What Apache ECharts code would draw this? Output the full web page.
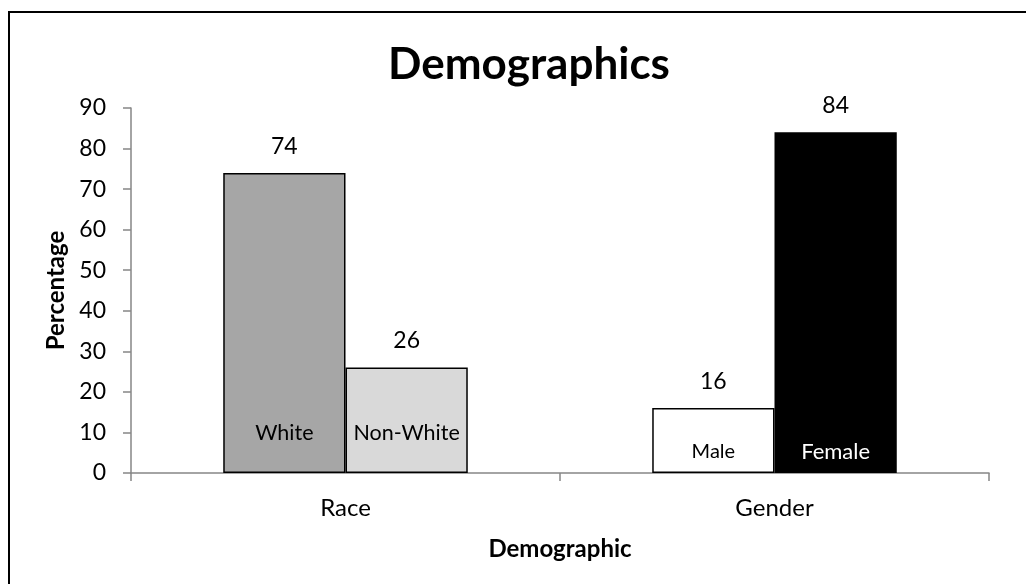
<!DOCTYPE html>
<html>
<head>
<meta charset="utf-8">
<script src="https://cdn.jsdelivr.net/npm/echarts@6/dist/echarts.min.js"></script>
<style>
html,body{margin:0;padding:0;background:#fff;}
#chart{width:1026px;height:584px;}
</style>
</head>
<body>
<div id="chart"></div>
<script>
const categories = ['Race', 'Gender'];
const firstValues = [74, 16];
const secondValues = [26, 84];
const firstNames = ['White', 'Male'];
const secondNames = ['Non-White', 'Female'];
const firstColors = ['#a6a6a6', '#ffffff'];
const secondColors = ['#d9d9d9', '#000000'];
const yTicks = [0, 10, 20, 30, 40, 50, 60, 70, 80, 90];

const FONT = 'Lato';
const chart = echarts.init(document.getElementById('chart'));

function visibleData(values, colors) {
  return values.map((v, i) => ({
    value: v,
    itemStyle: { color: colors[i], borderColor: '#000', borderWidth: 1.5 }
  }));
}
function nameData(values, names, textColors, sizes, dists) {
  return values.map((v, i) => ({
    value: v,
    label: { formatter: names[i], color: textColors[i], fontSize: sizes[i], distance: dists[i] }
  }));
}

const option = {
  animation: false,
  backgroundColor: '#fff',
  title: {
    text: 'Demographics',
    left: 524,
    textAlign: 'center',
    top: 38,
    textStyle: { fontFamily: FONT, fontWeight: 'bold', fontSize: 44, color: '#000' }
  },
  graphic: [{
    type: 'rect',
    shape: { x: 9, y: 12, width: 1100, height: 700 },
    style: { fill: 'none', stroke: '#000', lineWidth: 2 },
    silent: true
  }],
  grid: { left: 131, right: 37, top: 108, bottom: 111 },
  xAxis: [{
    type: 'category',
    data: categories,
    name: 'Demographic',
    nameLocation: 'middle',
    nameGap: 64,
    nameTextStyle: { fontFamily: FONT, fontWeight: 'bold', fontSize: 24, color: '#000' },
    axisLine: { lineStyle: { color: '#868686', width: 1.5 } },
    axisTick: { show: true, length: 8, lineStyle: { color: '#868686', width: 1.5 } },
    axisLabel: { fontFamily: FONT, fontSize: 24, color: '#000', margin: 23 }
  }, {
    type: 'category',
    data: categories,
    show: false
  }],
  yAxis: {
    type: 'value',
    min: 0, max: 90, interval: 10,
    name: 'Percentage',
    nameLocation: 'middle',
    nameGap: 61,
    nameTextStyle: { fontFamily: FONT, fontWeight: 'bold', fontSize: 24, color: '#000' },
    splitLine: { show: false },
    axisLine: { show: true, lineStyle: { color: '#868686', width: 1.5 } },
    axisTick: { show: true, length: 8, lineStyle: { color: '#868686', width: 1.5 } },
    axisLabel: {
      fontFamily: FONT, fontSize: 23, color: '#000', margin: 25,
      formatter: v => yTicks.includes(v) ? String(v) : ''
    }
  },
  series: [{
    type: 'bar',
    xAxisIndex: 0,
    data: visibleData(firstValues, firstColors),
    barGap: '0%',
    barCategoryGap: '43%',
    label: { show: true, position: 'top', distance: 15, fontFamily: FONT, fontSize: 23, color: '#000' }
  }, {
    type: 'bar',
    xAxisIndex: 0,
    data: visibleData(secondValues, secondColors),
    barGap: '0%',
    barCategoryGap: '43%',
    label: { show: true, position: 'top', distance: 15, fontFamily: FONT, fontSize: 23, color: '#000' }
  }, {
    type: 'bar',
    xAxisIndex: 1,
    silent: true,
    z: 5,
    itemStyle: { color: 'rgba(0,0,0,0)' },
    data: nameData(firstValues, firstNames, ['#000', '#000'], [21.5, 20], [29, 11]),
    barGap: '0%',
    barCategoryGap: '43%',
    label: { show: true, position: 'insideBottom', fontFamily: FONT }
  }, {
    type: 'bar',
    xAxisIndex: 1,
    silent: true,
    z: 5,
    itemStyle: { color: 'rgba(0,0,0,0)' },
    data: nameData(secondValues, secondNames, ['#000', '#fff'], [21.5, 22], [29, 10]),
    barGap: '0%',
    barCategoryGap: '43%',
    label: { show: true, position: 'insideBottom', fontFamily: FONT }
  }]
};
chart.setOption(option);
</script>
</body>
</html>
